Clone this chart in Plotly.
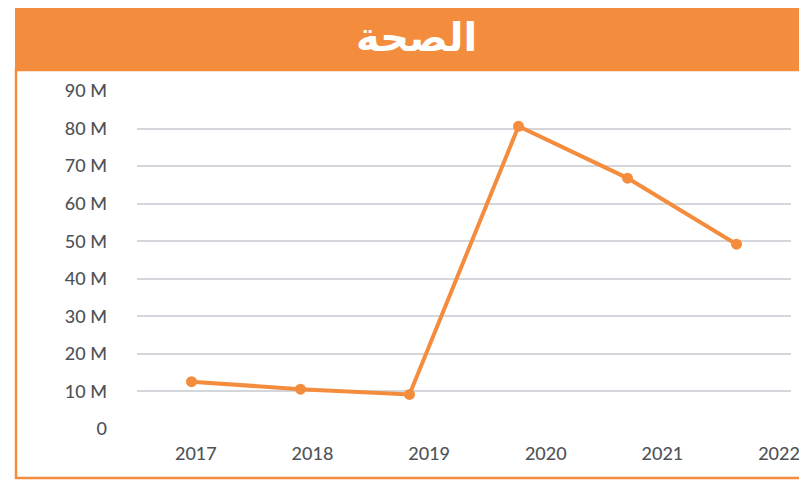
import plotly.graph_objects as go

years = [2017, 2018, 2019, 2020, 2021, 2022]
values = [12.6e6, 10.6e6, 9.2e6, 80.6e6, 66.8e6, 49.2e6]
y_ticks = [0, 10e6, 20e6, 30e6, 40e6, 50e6, 60e6, 70e6, 80e6, 90e6]
y_labels = ["0", "10 M", "20 M", "30 M", "40 M", "50 M", "60 M", "70 M", "80 M", "90 M"]
title_text = "الصحة"

ORANGE = "#F48C3E"
W, H = 807, 480
OFF = 8  # page body margin offset
# plot area in screen pixels: x 137..791, y 90.7..429
L = 137 - OFF
T = 91 - OFF
R = W - (791 - OFF)
B = H - (429 - OFF)
PW, PH = W - L - R, H - T - B

def px_x(p):
    return (p - OFF - L) / PW

def px_y(p):
    return (H - B - (p - OFF)) / PH

# tick labels in the reference sit slightly spread relative to points
x_tickvals = [y0 + (y0 - years[0]) * 0.07 + 0.04 for y0 in years]

fig = go.Figure()
fig.add_trace(go.Scatter(
    x=years, y=values, mode="lines+markers",
    line=dict(color=ORANGE, width=4),
    marker=dict(color=ORANGE, size=11),
    hoverinfo="skip", showlegend=False,
))

fig.update_layout(
    width=W, height=H,
    margin=dict(l=L, r=R, t=T, b=B, pad=0),
    paper_bgcolor="white", plot_bgcolor="white",
    font=dict(family="Lato", color="#4f5358", size=18, weight=500),
    xaxis=dict(
        range=[years[0] - 0.5, years[-1] + 0.5],
        tickvals=x_tickvals, ticktext=[str(y) for y in years],
        showgrid=False, zeroline=False, showline=False,
        ticks="", ticklabelstandoff=12,
        tickfont=dict(size=18, weight=500),
    ),
    yaxis=dict(
        range=[0, 90e6], tickvals=y_ticks, ticktext=y_labels,
        showgrid=True, gridcolor="#d3d7db", gridwidth=1.5,
        zeroline=False, showline=False, ticks="",
        ticklabelstandoff=29, tickfont=dict(size=18, weight=500),
    ),
    shapes=[
        dict(type="rect", xref="paper", yref="paper",
             x0=px_x(16), x1=px_x(W + 20), y0=px_y(478), y1=px_y(70),
             line=dict(color=ORANGE, width=2.5), fillcolor="rgba(0,0,0,0)", layer="below"),
        dict(type="rect", xref="paper", yref="paper",
             x0=px_x(15), x1=px_x(W + 20), y0=px_y(71), y1=px_y(8),
             line=dict(width=0), fillcolor=ORANGE, layer="above"),
    ],
    annotations=[
        dict(text="<b>" + title_text + "</b>", xref="paper", yref="paper",
             x=px_x(416), y=px_y(37), xanchor="center", yanchor="middle",
             showarrow=False, font=dict(family="DejaVu Sans", size=40, color="white")),
    ],
)

fig.write_html("out.html")
